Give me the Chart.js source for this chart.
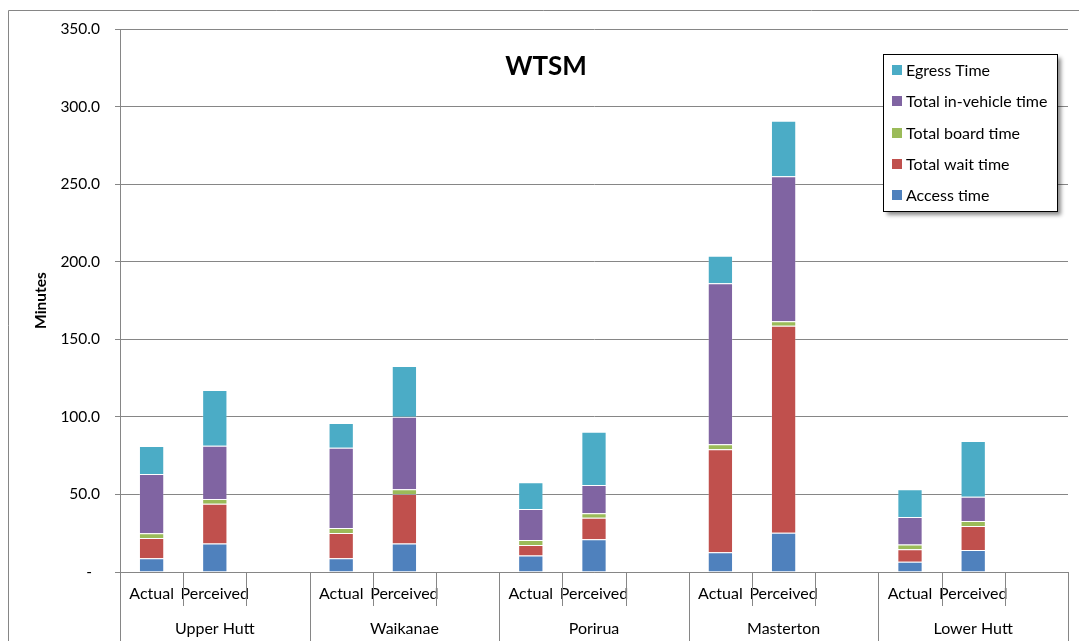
<!DOCTYPE html>
<html>
<head>
<meta charset="utf-8">
<script src="https://cdn.jsdelivr.net/npm/chart.js@4/dist/chart.umd.min.js"></script>
<style>
  html, body { margin: 0; padding: 0; background: #ffffff; }
  #wrap { width: 1079px; height: 641px; position: relative; }
</style>
</head>
<body>
<div id="wrap"><canvas id="c" width="1079" height="641"></canvas></div>
<script>
// Journey time components (minutes) per corridor, actual vs perceived
const groups = ['Upper Hutt', 'Waikanae', 'Porirua', 'Masterton', 'Lower Hutt'];
const subLabels = ['Actual', 'Perceived', ''];
const categories = groups.flatMap(() => subLabels);

const accessTime  = [8.8, 18.3, null,  8.8, 18.3, null, 10.7, 21.1, null, 12.7, 25.3, null,  6.6, 14.2, null];
const waitTime    = [13.1, 25.7, null, 16.3, 32.0, null,  6.7, 13.9, null, 66.4, 133.5, null, 8.0, 15.5, null];
const boardTime   = [3.0, 3.1, null,  3.3, 3.0, null,  3.2, 2.8, null,  3.2, 2.8, null,  3.2, 3.2, null];
const inVehicle   = [38.3, 34.3, null, 51.7, 46.8, null, 20.0, 18.3, null, 103.8, 93.5, null, 17.7, 15.6, null];
const egressTime  = [18.0, 35.9, null, 15.9, 32.7, null, 17.2, 34.3, null, 17.8, 35.8, null, 17.8, 35.9, null];

const yTicks = [0, 50, 100, 150, 200, 250, 300, 350];

const FONT = 'Lato, "Open Sans", "Liberation Sans", sans-serif';
const GRID = '#868686';

function ds(label, data, color) {
  return {
    label, data, backgroundColor: color,
    borderColor: 'rgba(255,255,255,0.2)', borderWidth: 1,
    categoryPercentage: 1.0, barPercentage: 0.4
  };
}

// Frame, title, axis title, two-level category axis and legend box
const decorations = {
  id: 'decorations',
  afterDraw(chart) {
    const { ctx, chartArea: a, scales: { x } } = chart;
    const n = categories.length;
    const w = (x.right - x.left) / n;
    ctx.save();

    // outer chart frame
    ctx.strokeStyle = GRID; ctx.lineWidth = 1;
    ctx.beginPath();
    ctx.moveTo(8.5, chart.height); ctx.lineTo(8.5, 10.5); ctx.lineTo(chart.width, 10.5);
    ctx.stroke();

    // category / group separators below the axis
    ctx.strokeStyle = GRID;
    for (let k = 0; k <= n; k++) {
      const px = Math.round(x.left + k * w) + 0.5;
      const yEnd = (k % subLabels.length === 0) ? chart.height : a.bottom + 34;
      ctx.beginPath(); ctx.moveTo(px, a.bottom); ctx.lineTo(px, yEnd); ctx.stroke();
    }

    // group labels
    ctx.fillStyle = '#000'; ctx.font = '16px ' + FONT;
    ctx.textAlign = 'center'; ctx.textBaseline = 'middle';
    groups.forEach((g, i) => {
      const cx = x.left + (i * subLabels.length + subLabels.length / 2) * w;
      ctx.fillText(g, cx, a.bottom + 57);
    });

    // title
    ctx.font = 'bold 26px ' + FONT;
    ctx.fillText('WTSM', 546, 67);

    // y axis title
    ctx.save();
    ctx.translate(41, (a.top + a.bottom) / 2);
    ctx.rotate(-Math.PI / 2);
    ctx.font = 'bold 15.5px ' + FONT;
    ctx.fillText('Minutes', 0, 0);
    ctx.restore();

    // legend (top series first)
    const bx = 883.5, by = 54.5, bw = 174, bh = 157;
    ctx.save();
    ctx.shadowColor = 'rgba(0,0,0,0.45)';
    ctx.shadowBlur = 4; ctx.shadowOffsetX = 3; ctx.shadowOffsetY = 3;
    ctx.fillStyle = '#fff';
    ctx.fillRect(bx, by, bw, bh);
    ctx.restore();
    ctx.strokeStyle = '#000'; ctx.lineWidth = 1;
    ctx.strokeRect(bx, by, bw, bh);
    const items = chart.data.datasets.slice().reverse();
    ctx.font = '16px ' + FONT; ctx.textAlign = 'left'; ctx.textBaseline = 'middle';
    items.forEach((d, i) => {
      const cy = 70 + i * 31.3;
      ctx.fillStyle = d.backgroundColor;
      ctx.fillRect(892, Math.round(cy - 5), 10, 10);
      ctx.fillStyle = '#000';
      ctx.fillText(d.label, 906, cy + 1);
    });

    ctx.restore();
  }
};

new Chart(document.getElementById('c'), {
  type: 'bar',
  data: {
    labels: categories,
    datasets: [
      ds('Access time', accessTime, '#4F81BD'),
      ds('Total wait time', waitTime, '#C0504D'),
      ds('Total board time', boardTime, '#9BBB59'),
      ds('Total in-vehicle time', inVehicle, '#8064A2'),
      ds('Egress Time', egressTime, '#4BACC6')
    ]
  },
  options: {
    responsive: false,
    devicePixelRatio: 1,
    animation: false,
    layout: { padding: { top: 29, right: 11, left: 0, bottom: 0 } },
    plugins: { legend: { display: false }, title: { display: false }, tooltip: { enabled: false } },
    scales: {
      x: {
        stacked: true,
        offset: true,
        grid: { display: false, drawTicks: false },
        border: { display: true, color: GRID, width: 1 },
        ticks: { color: '#000', font: { family: FONT, size: 16 }, padding: 12, maxRotation: 0, autoSkip: false },
        afterFit(s) { s.height = 69; }
      },
      y: {
        stacked: true,
        min: yTicks[0], max: yTicks[yTicks.length - 1],
        afterBuildTicks(s) { s.ticks = yTicks.map(v => ({ value: v })); },
        grid: { color: GRID, lineWidth: 1, tickLength: 5, drawTicks: true },
        border: { display: true, color: GRID, width: 1 },
        ticks: {
          color: '#000', font: { family: FONT, size: 15.5 }, padding: 15,
          callback: v => v === 0 ? '-  ' : Number(v).toFixed(1)
        },
        afterFit(s) { s.width = 120; }
      }
    }
  },
  plugins: [decorations]
});
</script>
</body>
</html>
